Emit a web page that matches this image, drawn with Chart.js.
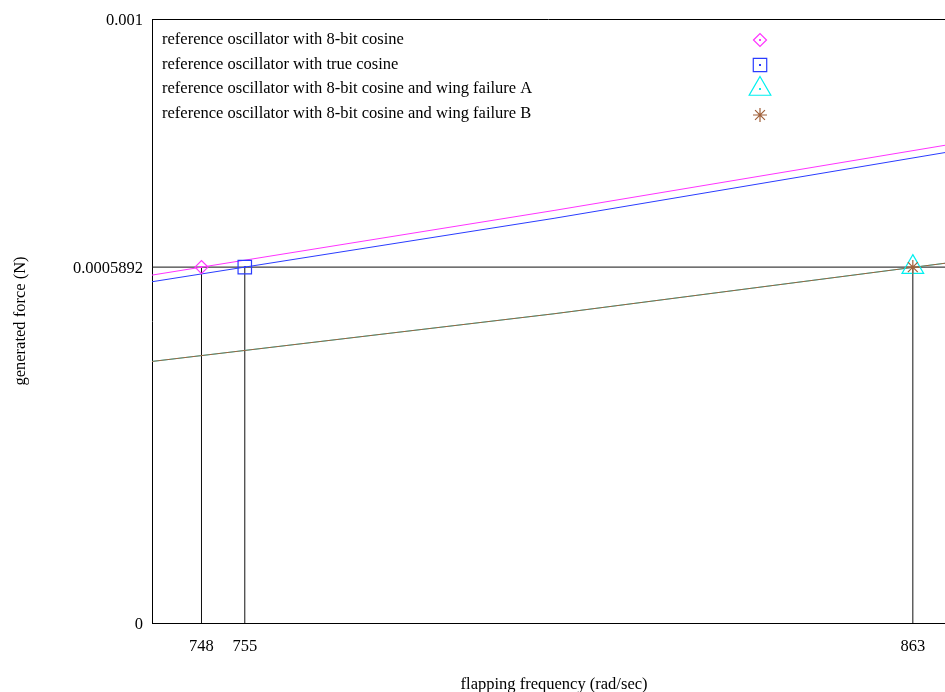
<!DOCTYPE html>
<html>
<head>
<meta charset="utf-8">
<script src="https://cdn.jsdelivr.net/npm/chart.js@4/dist/chart.umd.min.js"></script>
<style>
  html, body { margin: 0; padding: 0; background: #fff; overflow: hidden; }
  #wrap { width: 945px; height: 692px; }
  #c { display: block; }
</style>
</head>
<body>
<div id="wrap"><canvas id="c" width="945" height="692"></canvas></div>
<script>
// Axis ranges and tick labels
const xRange = [740, 870];      // full extent of the plot frame
const xVisibleMax = 868.2;      // the frame runs on past the right edge of the canvas
const xTicks = [748, 755, 863];
const yRange = [0, 0.001];
const yTicks = [0, 0.0005892, 0.001];
const yTickLabels = ['0', '0.0005892', '0.001'];
const xTitle = 'flapping frequency (rad/sec)';
const yTitle = 'generated force (N)';

// Force curves: frequency (rad/sec) vs generated force (N)
const curveFreq = [740, 805, 870];
const force8bit = [0.000576, 0.000683, 0.000794];
const forceTrue = [0.000565, 0.000670, 0.000782];
const forceWingA = [0.000433, 0.000512, 0.000598];
const forceWingB = [0.000433, 0.000512, 0.000598];

// Operating points where each curve meets the target force
const targetForce = 0.0005892;
const opFreq8bit = 748;
const opFreqTrue = 755;
const opFreqWingA = 863;
const opFreqWingB = 863;

const seriesNames = [
  'reference oscillator with 8-bit cosine',
  'reference oscillator with true cosine',
  'reference oscillator with 8-bit cosine and wing failure A',
  'reference oscillator with 8-bit cosine and wing failure B'
];
const seriesColors = ['#ff33ff', '#2a3cff', '#00f0f0', '#a0603a'];
const markerStyles = ['rectRot', 'rect', 'triangle', 'star'];
const markerRadii = [6.5, 9.5, 12.5, 7];
const keyMarkerNudge = [0, 0.5, 0, 1.5];

const FONT = '"Liberation Serif", "Times New Roman", serif';
const FONT_SIZE = 16.5;

const pts = (xs, ys) => xs.map((x, i) => ({ x: x, y: ys[i] }));

const curves = [force8bit, forceTrue, forceWingA, forceWingB];
const opFreqs = [opFreq8bit, opFreqTrue, opFreqWingA, opFreqWingB];

const datasets = [];

// Target force reference line and drop lines to the frequency axis
datasets.push({
  label: 'target', data: pts(xRange, [targetForce, targetForce]),
  borderColor: '#111', borderWidth: 1, pointRadius: 0, showLine: true, order: 10
});
[opFreq8bit, opFreqTrue, opFreqWingA].forEach(f => {
  datasets.push({
    label: 'drop', data: pts([f, f], [0, targetForce]),
    borderColor: '#111', borderWidth: 1, pointRadius: 0, showLine: true, order: 10
  });
});

// Curves (later series drawn on top)
[0, 1, 2, 3].forEach(i => {
  datasets.push({
    label: seriesNames[i], data: pts(curveFreq, curves[i]),
    borderColor: seriesColors[i], borderWidth: 1, pointRadius: 0,
    showLine: true, order: 9 - i
  });
});

// Markers at the operating points
const markerIdx = [];
[0, 1, 2, 3].forEach(i => {
  markerIdx.push(datasets.length);
  datasets.push({
    label: seriesNames[i] + ' marker', data: [{ x: opFreqs[i], y: targetForce }],
    showLine: false, pointStyle: markerStyles[i], pointRadius: markerRadii[i],
    pointBorderColor: seriesColors[i], pointBackgroundColor: 'rgba(0,0,0,0)',
    pointBorderWidth: 1.2, pointHoverRadius: markerRadii[i], order: 1 - i * 0.1
  });
});

// Frame top edge, x-axis title, in-plot key and marker center dots
const framePlugin = {
  id: 'frame',
  afterDatasetsDraw(chart) {
    const ctx = chart.ctx;
    const a = chart.chartArea;
    const xs = chart.scales.x;
    ctx.save();
    ctx.strokeStyle = '#000';
    ctx.lineWidth = 1;
    ctx.beginPath();
    ctx.moveTo(a.left, a.top + 0.5);
    ctx.lineTo(a.right, a.top + 0.5);
    ctx.stroke();

    // x-axis title, centred under the whole frame
    const cx = (xs.getPixelForValue(xRange[0]) + xs.getPixelForValue(xRange[1])) / 2;
    ctx.font = FONT_SIZE + 'px ' + FONT;
    ctx.fillStyle = '#000';
    ctx.textAlign = 'center';
    ctx.textBaseline = 'middle';
    ctx.fillText(xTitle, cx, chart.height - 7);

    // center dots in each marker
    markerIdx.forEach((di, k) => {
      const el = chart.getDatasetMeta(di).data[0];
      if (!el) return;
      ctx.fillStyle = seriesColors[k];
      ctx.fillRect(Math.round(el.x) - 1, Math.round(el.y) - 1, 2, 2);
    });

    // key: text on the left, symbol on the right
    const textX = a.left + 10;
    const markX = 760;
    const y0 = 40;
    const dy = 24.5;
    ctx.textAlign = 'left';
    seriesNames.forEach((name, i) => {
      const y = y0 + i * dy;
      const my = y + keyMarkerNudge[i];
      ctx.fillStyle = '#000';
      ctx.fillText(name, textX, y);
      ctx.strokeStyle = seriesColors[i];
      ctx.fillStyle = 'rgba(0,0,0,0)';
      ctx.lineWidth = 1.2;
      Chart.helpers.drawPoint(ctx, {
        pointStyle: markerStyles[i], radius: markerRadii[i], rotation: 0, borderWidth: 1.2
      }, markX, my);
      ctx.fillStyle = seriesColors[i];
      ctx.fillRect(markX - 1, my - 1, 2, 2);
    });
    ctx.restore();
  }
};

new Chart(document.getElementById('c'), {
  type: 'scatter',
  data: { datasets: datasets },
  options: {
    responsive: false,
    maintainAspectRatio: false,
    devicePixelRatio: 1,
    animation: false,
    layout: { autoPadding: false, padding: { left: 0, right: 0, top: 19, bottom: 0 } },
    plugins: { legend: { display: false }, tooltip: { enabled: false } },
    elements: { line: { tension: 0 } },
    scales: {
      x: {
        type: 'linear', min: xRange[0], max: xVisibleMax,
        afterBuildTicks: s => { s.ticks = xTicks.map(v => ({ value: v })); },
        afterFit: s => { s.height = 69; s.paddingLeft = 0; s.paddingRight = 0; },
        grid: { display: false, drawTicks: false },
        border: { display: true, color: '#000', width: 1 },
        ticks: { color: '#000', padding: 14, maxRotation: 0, autoSkip: false,
                 font: { family: FONT, size: FONT_SIZE }, callback: v => String(v) },
        title: { display: false }
      },
      y: {
        type: 'linear', min: yRange[0], max: yRange[1],
        afterBuildTicks: s => { s.ticks = yTicks.map(v => ({ value: v })); },
        afterFit: s => { s.width = 152; },
        grid: { display: false, drawTicks: false },
        border: { display: true, color: '#000', width: 1 },
        ticks: { color: '#000', padding: 9, autoSkip: false, labelOffset: 1.5,
                 font: { family: FONT, size: FONT_SIZE },
                 callback: (v, i) => yTickLabels[i] },
        title: { display: true, text: yTitle, color: '#000',
                 font: { family: FONT, size: FONT_SIZE }, padding: { top: 11, bottom: 0 } }
      }
    }
  },
  plugins: [framePlugin]
});
</script>
</body>
</html>
